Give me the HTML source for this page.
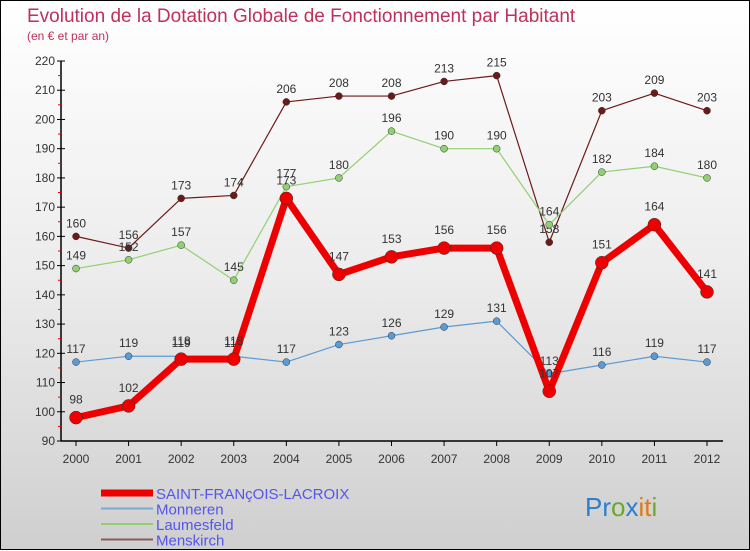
<!DOCTYPE html>
<html><head><meta charset="utf-8"><style>
body{margin:0;width:750px;height:550px;overflow:hidden;font-family:"Liberation Sans",sans-serif}
#wrap{position:relative;width:748px;height:548px;border:1px solid #000;background:linear-gradient(#ffffff 0%,#ececec 50%,#cfcfcf 100%)}
svg{position:absolute;left:0;top:0}
</style></head><body>
<div id="wrap">
<svg id="chart" width="750" height="550">
<text x="26" y="21" font-size="19" fill="#c0305a">Evolution de la Dotation Globale de Fonctionnement par Habitant</text>
<text x="26" y="39" font-size="12" fill="#c0305a">(en € et par an)</text>
</svg>
</div>
<script>
const years=["2000","2001","2002","2003","2004","2005","2006","2007","2008","2009","2010","2011","2012"];
const yTicks=[90,100,110,120,130,140,150,160,170,180,190,200,210,220];
const monneren=[117,119,119,119,117,123,126,129,131,113,116,119,117];
const laumesfeld=[149,152,157,145,177,180,196,190,190,164,182,184,180];
const menskirch=[160,156,173,174,206,208,208,213,215,158,203,209,203];
const sfl=[98,102,118,118,173,147,153,156,156,107,151,164,141];
const NS="http://www.w3.org/2000/svg";
const svg=document.getElementById('chart');
const X=i=>75+i*(706-75)/12;
const Y=v=>440-(v-90)*(380/130);
function mk(t,a,p){const e=document.createElementNS(NS,t);for(const k in a)e.setAttribute(k,a[k]);(p||svg).appendChild(e);return e;}
const ax=mk('g',{});


mk('line',{x1:60,y1:60,x2:60,y2:440,stroke:'#000','stroke-width':1.5},ax);
mk('line',{x1:60,y1:440,x2:722,y2:440,stroke:'#000','stroke-width':1.5},ax);
yTicks.forEach((v,i)=>{
 mk('line',{x1:56,y1:Y(v),x2:64,y2:Y(v),stroke:'#000'},ax);
 const t=mk('text',{x:54,y:Y(v)+4,'font-size':12,fill:'#333','text-anchor':'end'},ax);t.textContent=v;
 
 
 if(i<yTicks.length-1)mk('line',{x1:57,y1:Y(v+5),x2:60,y2:Y(v+5),stroke:'#e00'},ax);
});
years.forEach((y,i)=>{
 mk('line',{x1:X(i),y1:440,x2:X(i),y2:445,stroke:'#000'},ax);
 const t=mk('text',{x:X(i),y:462,'font-size':12,fill:'#333','text-anchor':'middle'},ax);t.textContent=y;
 
 
});
function series(data,color,w,r,name,off){
 const g=mk('g',{});
 
 
 mk('polyline',{points:data.map((v,i)=>X(i)+','+Y(v)).join(' '),fill:'none',stroke:color,'stroke-width':w,'stroke-linejoin':'round'},g);
 data.forEach((v,i)=>{
  const c=mk('circle',{cx:X(i),cy:Y(v),r:r,fill:color,stroke:'#333','stroke-width':0.5},g);
  
  
  const t=mk('text',{x:X(i),y:Y(v)-off,'font-size':12,fill:'#333','text-anchor':'middle'},g);t.textContent=v;
  
  
 });
}
series(menskirch,'#6b1a1a',1.2,3.5,'menskirch-series',9);
series(laumesfeld,'#90d070',1.2,3.5,'laumesfeld-series',9);
series(monneren,'#5b9bd5',1.2,3.5,'monneren-series',9);
series(sfl,'#ee0000',7,6.5,'saint-francois-lacroix-series',14);
const lg=[['SAINT-FRANçOIS-LACROIX','#ee0000',7],['Monneren','#7aaad0',2],['Laumesfeld','#90d070',2],['Menskirch','#8b5a5a',2]];
lg.forEach((l,i)=>{
 const y=492+i*15.5;
 const g=mk('g',{});
 
 
 mk('line',{x1:100,y1:y,x2:152,y2:y,stroke:l[1],'stroke-width':l[2]},g);
 const t=mk('text',{x:155,y:y+6,'font-size':15,fill:'#5555ee'},g);t.textContent=l[0];
});
const lo=mk('text',{x:584,y:515,'font-size':26});


[['Pr','#2a7fd0'],['o','#6aaa2a'],['x','#2a7fd0'],['i','#e07a10'],['t','#e07a10'],['i','#6aaa2a']].forEach(p=>{const s=mk('tspan',{fill:p[1]},lo);s.textContent=p[0];});
</script>
</body></html>
